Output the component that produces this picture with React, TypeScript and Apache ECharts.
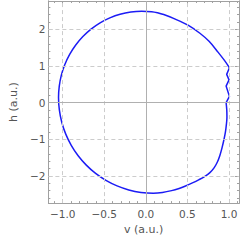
import React, { useEffect, useRef } from "react";
import * as echarts from "echarts";

// smooth part of the curve, counter-clockwise from the top of the zigzag round to its bottom
const curveV = [
  1.005, 0.945, 0.87, 0.76, 0.65, 0.507, 0.36, 0.215, 0.14, 0.07,
  -0.05, -0.18, -0.31, -0.433, -0.55, -0.659, -0.757, -0.843, -0.916, -0.974, -1.016, -1.041,
  -1.05, -1.04, -1.011, -0.963, -0.897, -0.814, -0.716, -0.604, -0.48, -0.346, -0.205, -0.059,
  0.09, 0.2, 0.31, 0.4, 0.47, 0.56, 0.64, 0.71, 0.77, 0.82, 0.86, 0.89, 0.915, 0.94, 0.957, 0.968, 0.975, 0.973, 0.965,
];
const curveH = [
  0.95, 1.15, 1.37, 1.67, 1.89, 2.11, 2.27, 2.4, 2.45, 2.48,
  2.49, 2.47, 2.41, 2.31, 2.175, 2.004, 1.801, 1.571, 1.315, 1.039, 0.748, 0.447,
  0.14, -0.2, -0.536, -0.859, -1.165, -1.449, -1.705, -1.931, -2.12, -2.271, -2.381, -2.448,
  -2.47, -2.45, -2.4, -2.34, -2.28, -2.19, -2.1, -2.01, -1.91, -1.78, -1.62, -1.44, -1.24, -1.0, -0.8, -0.6, -0.4, -0.2, 0.0,
];
// the jagged stretch on the right
const zigzagV = [0.965, 1.005, 0.965, 1.0, 0.972, 1.005];
const zigzagH = [0.0, 0.17, 0.45, 0.62, 0.77, 0.95];

const xMajorTicks = [-1, -0.5, 0, 0.5, 1];
const xMinorTicks = [-1.1, -0.9, -0.8, -0.7, -0.6, -0.4, -0.3, -0.2, -0.1, 0.1, 0.2, 0.3, 0.4, 0.6, 0.7, 0.8, 0.9, 1.1];
const yMajorTicks = [-2, -1, 0, 1, 2];
const yMinorTicks = [
  -2.6, -2.4, -2.2, -1.8, -1.6, -1.4, -1.2, -0.8, -0.6, -0.4, -0.2, 0.2, 0.4, 0.6, 0.8, 1.2, 1.4, 1.6, 1.8, 2.2, 2.4, 2.6,
];
const xDashed = [-1, -0.5, 0.5, 1];
const yDashed = [-2, -1, 1, 2];

const X_MIN = -1.172;
const X_MAX = 1.12;
const Y_MIN = -2.74;
const Y_MAX = 2.77;

const FRAME = "#a0a0a0";
const LABEL = "#555555";
const FONT = "DejaVu Sans";
const CURVE = "#1c1cf5";

function fmt(v: number, digits: number) {
  return v.toFixed(digits).replace("-", "\u2212");
}

function makeAxis(
  kind: "x" | "y",
  position: string,
  ticks: number[],
  len: number,
  withLabels: boolean,
) {
  const isX = kind === "x";
  const ax: any = {
    type: "value",
    position,
    min: isX ? X_MIN : Y_MIN,
    max: isX ? X_MAX : Y_MAX,
    axisLine: { show: true, onZero: false, lineStyle: { color: FRAME, width: 1 } },
    axisTick: {
      show: true,
      inside: true,
      length: len,
      customValues: ticks,
      lineStyle: { color: FRAME, width: 1 },
    },
    axisLabel: withLabels
      ? {
          show: true,
          customValues: ticks,
          color: LABEL,
          fontFamily: FONT,
          fontSize: 10.5,
          margin: isX ? 5 : 3,
          formatter: (v: number) => fmt(v, isX ? 1 : 0),
        }
      : { show: false },
    splitLine: { show: false },
    minorTick: { show: false },
  };
  if (withLabels) {
    ax.name = isX ? "v (a.u.)" : "h (a.u.)";
    ax.nameLocation = "middle";
    ax.nameGap = isX ? 15 : 17;
    ax.nameTextStyle = { color: LABEL, fontFamily: FONT, fontSize: 11 };
  }
  return ax;
}

export default function App() {
  const ref = useRef<HTMLDivElement>(null);
  useEffect(() => {
    if (!ref.current) return;
    const chart = echarts.init(ref.current, undefined, { renderer: "svg" });
    const curveData = curveV.map((v, i) => [v, curveH[i]]);
    const zigzagData = zigzagV.map((v, i) => [v, zigzagH[i]]);
    const dashed = { color: "#cccccc", width: 1, type: [4, 3] as any };
    const solid = { color: "#b0b0b0", width: 1, type: "solid" as any };
    const markData: any[] = [
      ...xDashed.map((x) => ({ xAxis: x, lineStyle: dashed })),
      ...yDashed.map((y) => ({ yAxis: y, lineStyle: dashed })),
      { xAxis: 0, lineStyle: solid },
      { yAxis: 0, lineStyle: solid },
    ];
    chart.setOption({
      animation: false,
      backgroundColor: "#ffffff",
      grid: { left: 30, right: 1, top: 1, bottom: 31, containLabel: false },
      xAxis: [
        makeAxis("x", "bottom", xMajorTicks, 4, true),
        makeAxis("x", "bottom", xMinorTicks, 2, false),
        makeAxis("x", "top", xMajorTicks, 4, false),
        makeAxis("x", "top", xMinorTicks, 2, false),
      ],
      yAxis: [
        makeAxis("y", "left", yMajorTicks, 4, true),
        makeAxis("y", "left", yMinorTicks, 2, false),
        makeAxis("y", "right", yMajorTicks, 4, false),
        makeAxis("y", "right", yMinorTicks, 2, false),
      ],
      series: [
        {
          type: "line",
          xAxisIndex: 0,
          yAxisIndex: 0,
          data: [],
          silent: true,
          z: 1,
          markLine: {
            silent: true,
            symbol: "none",
            label: { show: false },
            data: markData,
          },
        },
        {
          type: "line",
          xAxisIndex: 0,
          yAxisIndex: 0,
          data: curveData,
          smooth: 0.35,
          showSymbol: false,
          z: 3,
          lineStyle: { color: CURVE, width: 1.5 },
        },
        {
          type: "line",
          xAxisIndex: 0,
          yAxisIndex: 0,
          data: zigzagData,
          smooth: false,
          showSymbol: false,
          z: 3,
          lineStyle: { color: CURVE, width: 1.5, join: "round" },
        },
      ],
    });
    return () => chart.dispose();
  }, []);
  return (
    <div
      ref={ref}
      style={{ position: "fixed", left: 0, top: 0, width: 240, height: 240, background: "#fff" }}
    />
  );
}
